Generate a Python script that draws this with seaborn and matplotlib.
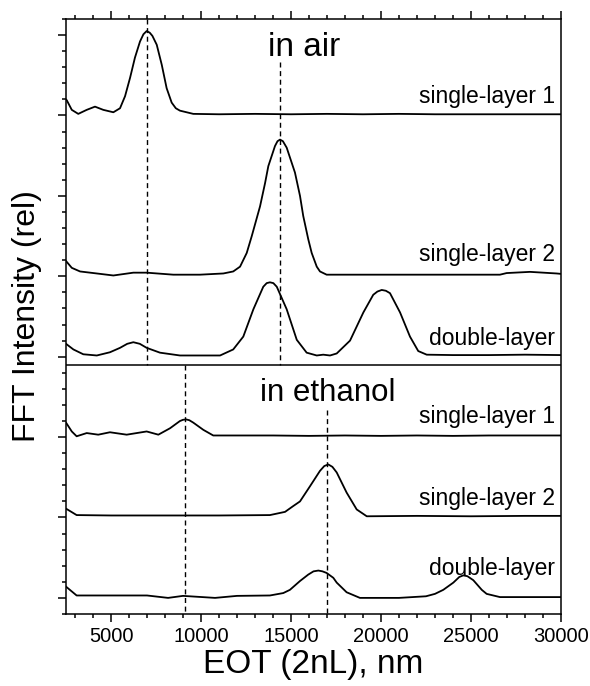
import numpy as np
import pandas as pd
import matplotlib
matplotlib.use("Agg")
import matplotlib.pyplot as plt
from matplotlib.ticker import MultipleLocator, NullFormatter
import seaborn as sns

# ---------------- data ----------------
# in air
air_s1_x = [2500, 2540, 2820, 3180, 3650, 4110, 4570, 5130, 5500, 5780, 6060, 6330, 6610, 6800,
            6980, 7150, 7300, 7540, 7820, 8090, 8370, 8600, 8830, 9570, 11000, 13000, 15000,
            17000, 19000, 21000, 23000, 25000, 27000, 29000, 30000]
air_s1_y = [0.20, 0.19, 0.07, 0.02, 0.07, 0.11, 0.07, 0.04, 0.09, 0.24, 0.47, 0.72, 0.92, 1.01,
            1.05, 1.03, 0.99, 0.88, 0.63, 0.34, 0.16, 0.09, 0.06, 0.02, 0.015, 0.02, 0.015,
            0.02, 0.015, 0.02, 0.015, 0.015, 0.015, 0.015, 0.015]

air_s2_x = [2500, 2820, 3280, 4210, 5130, 6240, 6980, 8460, 9940, 11240, 11790, 12170, 12540,
            12820, 13280, 13560, 13740, 14110, 14250, 14390, 14550, 14760, 15220, 15500, 15680,
            15960, 16150, 16430, 16610, 16980, 19000, 22000, 25000, 26610, 26980, 28280, 29760,
            30000]
air_s2_y = [0.19, 0.105, 0.06, 0.035, 0.01, 0.045, 0.045, 0.02, 0.02, 0.035, 0.06, 0.12, 0.29,
            0.50, 0.87, 1.16, 1.37, 1.62, 1.68, 1.70, 1.68, 1.60, 1.29, 1.00, 0.75,
            0.46, 0.29, 0.12, 0.06, 0.02, 0.02, 0.02, 0.02, 0.02, 0.04, 0.055, 0.035, 0.03]

air_dl_x = [2500, 2910, 3460, 4210, 4940, 5500, 5900, 6240, 6600, 6980, 7720, 8830, 11060, 11790,
            12350, 12910, 13460, 13650, 13830, 14020, 14210, 14760, 15320, 15870, 16430, 16790,
            17170, 17540, 18280, 19020, 19570, 19800, 20040, 20270, 20500, 21060, 21610, 22070,
            22540, 24000, 26000, 28000, 30000]
air_dl_y = [0.16, 0.09, 0.03, 0.015, 0.055, 0.11, 0.16, 0.18, 0.16, 0.11, 0.05, 0.015, 0.015,
            0.09, 0.25, 0.59, 0.87, 0.915, 0.925, 0.915, 0.87, 0.59, 0.21, 0.05, 0.015, 0.025,
            0.015, 0.04, 0.20, 0.55, 0.77, 0.81, 0.83, 0.82, 0.79, 0.55, 0.25, 0.07,
            0.025, 0.02, 0.02, 0.025, 0.02]

# in ethanol
eth_s1_x = [2500, 2820, 3090, 3650, 4290, 4940, 5870, 6980, 7630, 8280, 8830, 9000, 9170, 9350,
            9570, 10130, 10680, 12000, 14000, 16000, 18000, 20000, 22000, 24000, 26000, 28000,
            30000]
eth_s1_y = [0.18, 0.07, 0.01, 0.05, 0.03, 0.06, 0.03, 0.07, 0.03, 0.11, 0.20, 0.215, 0.22,
            0.21, 0.18, 0.09, 0.02, 0.02, 0.02, 0.015, 0.02, 0.015, 0.02, 0.015, 0.02, 0.02,
            0.02]

eth_s2_x = [2500, 3090, 5000, 8000, 11000, 13830, 14670, 15110, 15500, 16060, 16610, 16850,
            17070, 17300, 17540, 18090, 18650, 19210, 22000, 25000, 28000, 30000]
eth_s2_y = [0.11, 0.03, 0.025, 0.025, 0.025, 0.03, 0.07, 0.14, 0.20, 0.39, 0.58, 0.64,
            0.66, 0.63, 0.56, 0.31, 0.10, 0.015, 0.02, 0.015, 0.02, 0.02]

eth_dl_x = [2500, 3090, 5000, 7000, 8170, 9000, 10780, 12000, 13830, 14570, 14940, 15500, 15960,
            16250, 16520, 16750, 16980, 17350, 17540, 18090, 18830, 21000, 22500, 23000, 23460,
            24020, 24350, 24570, 24800, 25130, 25600, 25870, 26610, 28000, 30000]
eth_dl_y = [0.14, 0.03, 0.03, 0.03, 0.0, 0.025, 0.0, 0.025, 0.03, 0.06, 0.10, 0.21, 0.29,
            0.33, 0.34, 0.33, 0.31, 0.25, 0.19, 0.07, 0.0, 0.0, 0.02, 0.05, 0.10,
            0.19, 0.26, 0.28, 0.27, 0.22, 0.10, 0.05, 0.01, 0.01, 0.01]

curve_names = ["air single-layer 1", "air single-layer 2", "air double-layer",
               "ethanol single-layer 1", "ethanol single-layer 2", "ethanol double-layer"]
curve_labels = ["single-layer 1", "single-layer 2", "double-layer",
                "single-layer 1", "single-layer 2", "double-layer"]
curve_offsets = [6, 4, 3, 2, 1, 0]

air_peaks = [7000, 14400]
eth_peaks = [9100, 17000]

# ---------------- build table ----------------
xs = [air_s1_x, air_s2_x, air_dl_x, eth_s1_x, eth_s2_x, eth_dl_x]
ys = [air_s1_y, air_s2_y, air_dl_y, eth_s1_y, eth_s2_y, eth_dl_y]
frames = []
for name, x, y, off in zip(curve_names, xs, ys, curve_offsets):
    frames.append(pd.DataFrame({"EOT": x, "I": np.array(y) + off, "curve": name}))
df = pd.concat(frames, ignore_index=True)

# ---------------- plot ----------------
sns.set_style("ticks", {"axes.edgecolor": "black", "xtick.color": "black",
                        "ytick.color": "black", "text.color": "black",
                        "axes.labelcolor": "black"})
plt.rcParams["font.family"] = ["Liberation Sans", "DejaVu Sans"]
plt.rcParams["axes.linewidth"] = 1.1

fig = plt.figure(figsize=(5.9, 6.86), dpi=100)
ax = fig.add_axes([0.1119, 0.105, 0.8389, 0.8673])

sns.lineplot(data=df, x="EOT", y="I", units="curve", estimator=None, sort=False,
             color="black", lw=1.3, ax=ax, legend=False)

ax.set_xlim(2500, 30000)
ax.set_ylim(-0.2, 7.2)

# divider between the two panels
ax.axhline(2.9, color="black", lw=1.1)

# dashed peak markers
dash = (0, (3.6, 2.6))
ax.plot([air_peaks[0]] * 2, [7.2, 2.9], color="black", lw=1.0, linestyle=dash)
ax.plot([air_peaks[1]] * 2, [6.66, 2.9], color="black", lw=1.0, linestyle=dash)
ax.plot([eth_peaks[0]] * 2, [2.9, -0.2], color="black", lw=1.0, linestyle=dash)
ax.plot([eth_peaks[1]] * 2, [2.34, -0.2], color="black", lw=1.0, linestyle=dash)

# curve labels
label_y = [6.16, 4.19, 3.14, 2.18, 1.16, 0.29]
for lab, yy in zip(curve_labels, label_y):
    ax.text(29650, yy, lab, ha="right", va="baseline", fontsize=16.5, color="black")

ax.text(13722, 6.74, "in air", ha="left", va="baseline", fontsize=24, color="black")
ax.text(13278, 2.445, "in ethanol", ha="left", va="baseline", fontsize=22.5, color="black")

# ticks
ax.xaxis.set_major_locator(MultipleLocator(5000))
ax.xaxis.set_minor_locator(MultipleLocator(1000))
ax.yaxis.set_major_locator(MultipleLocator(1))
ax.yaxis.set_minor_locator(MultipleLocator(0.2))
ax.yaxis.set_major_formatter(NullFormatter())
ax.tick_params(axis="x", which="both", direction="out", top=True, bottom=True,
               labeltop=False, labelsize=14.5, width=1.1, colors="black")
ax.tick_params(axis="y", which="both", direction="out", left=True, right=False, width=1.1,
               colors="black")
ax.tick_params(which="major", length=6)
ax.tick_params(which="minor", length=3)
for s in ax.spines.values():
    s.set_visible(True)
    s.set_linewidth(1.1)
    s.set_color("black")

ax.set_xlabel("EOT (2nL), nm", fontsize=24, labelpad=2, color="black")
ax.set_ylabel("FFT Intensity (rel)", fontsize=23, labelpad=8, color="black")

fig.savefig("out.png", dpi=100)
